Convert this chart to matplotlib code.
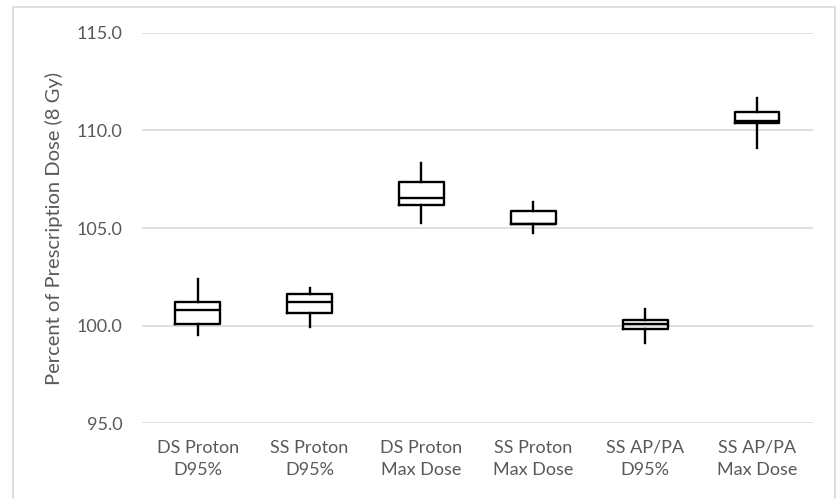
import matplotlib.pyplot as plt
from matplotlib.patches import Rectangle

plt.rcParams['font.family'] = ['Lato', 'DejaVu Sans']

categories = ["DS Proton\nD95%", "SS Proton\nD95%", "DS Proton\nMax Dose",
              "SS Proton\nMax Dose", "SS AP/PA\nD95%", "SS AP/PA\nMax Dose"]
whisk_lo = [99.5, 99.95, 105.27, 104.75, 99.1, 109.08]
q1 = [100.1, 100.65, 106.2, 105.23, 99.85, 110.38]
median = [100.8, 101.2, 106.53, 105.23, 100.09, 110.5]
q3 = [101.2, 101.6, 107.37, 105.86, 100.27, 110.94]
whisk_hi = [102.4, 101.93, 108.34, 106.34, 100.87, 111.68]

stats = []
for i in range(len(categories)):
    stats.append({"whislo": whisk_lo[i], "q1": q1[i], "med": median[i],
                  "q3": q3[i], "whishi": whisk_hi[i], "fliers": []})

fig = plt.figure(figsize=(8.39, 4.99), dpi=100)
ax = fig.add_axes([0.169, 0.152, 0.8, 0.782])

line = dict(color="black", linewidth=1.7)
ax.bxp(stats, positions=range(len(categories)), widths=0.4, showcaps=False,
       boxprops=line, medianprops=line, whiskerprops=line)

ax.set_xlim(-0.5, len(categories) - 0.5)
ax.set_ylim(95, 115)
ax.set_yticks([95, 100, 105, 110, 115])
ax.set_yticklabels([f"{v:.1f}" for v in [95, 100, 105, 110, 115]])
ax.set_xticks(range(len(categories)))
ax.set_xticklabels(categories, linespacing=1.45)
ax.tick_params(axis="both", length=0, labelsize=13, labelcolor="#595959")
ax.tick_params(axis="y", pad=14)
ax.tick_params(axis="x", pad=12)
ax.set_ylabel("Percent of Prescription Dose (8 Gy)", fontsize=14.5, color="#595959", labelpad=10)

ax.grid(axis="y", color="#d9d9d9", linewidth=1.2)
ax.set_axisbelow(True)
for s in ax.spines.values():
    s.set_visible(False)

fig.patches.append(Rectangle((13 / 839, -0.01), (835 - 13) / 839, 1 - 7 / 499 + 0.01,
                             transform=fig.transFigure, fill=False,
                             edgecolor="#d9d9d9", linewidth=1.2))

fig.savefig("out.png", dpi=100)
